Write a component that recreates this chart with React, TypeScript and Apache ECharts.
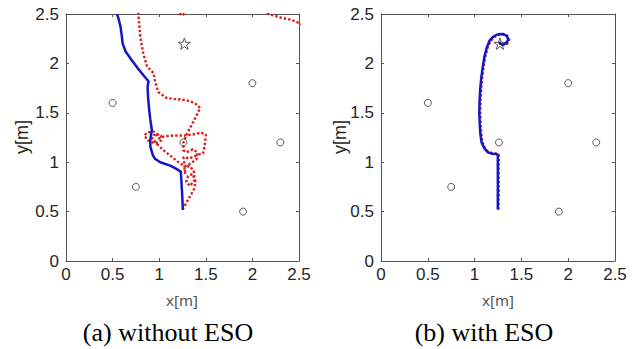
import React, { useEffect, useRef } from "react";
import * as echarts from "echarts";

const axisTicks = [0, 0.5, 1, 1.5, 2, 2.5];

const obstacles: [number, number][] = [
  [0.5, 1.6],
  [0.75, 0.75],
  [1.26, 1.2],
  [1.9, 0.5],
  [2.0, 1.8],
  [2.3, 1.2],
];

const goal: [number, number][] = [[1.27, 2.2]];

// (a) without ESO
const blueWithout: [number, number][] = [
  [1.254, 0.516], [1.245, 0.7], [1.232, 0.904], [1.17, 0.94], [1.118, 0.965],
  [1.011, 0.999], [0.955, 1.035], [0.932, 1.07], [0.905, 1.157], [0.904, 1.225],
  [0.921, 1.326], [0.905, 1.43], [0.893, 1.528], [0.882, 1.64], [0.875, 1.76],
  [0.885, 1.82], [0.84, 1.87], [0.77, 1.95], [0.7, 2.04], [0.64, 2.12],
  [0.607, 2.203], [0.597, 2.29], [0.585, 2.372], [0.567, 2.44], [0.548, 2.5],
];

const redWithout: [number, number][] = [
  [1.25, 0.52], [1.31, 0.62], [1.37, 0.72], [1.39, 0.8], [1.36, 0.88],
  [1.31, 0.86], [1.29, 0.8], [1.33, 0.76], [1.38, 0.82], [1.37, 0.92],
  [1.32, 0.96], [1.27, 0.94], [1.28, 0.88], [1.27, 0.98], [1.26, 1.05],
  [1.33, 1.04], [1.4, 1.07], [1.47, 1.09], [1.49, 1.18], [1.5, 1.28],
  [1.45, 1.3], [1.36, 1.28], [1.27, 1.27], [1.15, 1.27], [1.05, 1.26],
  [1.0, 1.24], [0.94, 1.31], [0.87, 1.3], [0.84, 1.27], [0.88, 1.22],
  [0.96, 1.19], [1.02, 1.22], [1.02, 1.27], [0.96, 1.29], [0.92, 1.25],
  [0.98, 1.18], [1.06, 1.11], [1.14, 1.05], [1.22, 0.99], [1.28, 0.96],
  [1.34, 0.99], [1.4, 1.03], [1.41, 1.1], [1.36, 1.13], [1.29, 1.1],
  [1.26, 1.12], [1.26, 1.2], [1.3, 1.29], [1.35, 1.38], [1.4, 1.47],
  [1.44, 1.55], [1.38, 1.6], [1.28, 1.63], [1.16, 1.64], [1.08, 1.65],
  [0.99, 1.71], [0.955, 1.82], [0.94, 1.9], [0.87, 1.97], [0.83, 2.1],
  [0.8, 2.25], [0.79, 2.35], [0.775, 2.5], [0.76, 2.65], [0.9, 2.9],
  [1.15, 2.62], [1.21, 2.51], [1.245, 2.485], [1.28, 2.51], [1.5, 2.8],
  [2.0, 2.7], [2.17, 2.5], [2.3, 2.465], [2.42, 2.44], [2.5, 2.41], [2.6, 2.37],
];

// (b) with ESO
const blueWith: [number, number][] = [
  [1.248, 0.52], [1.248, 0.7], [1.248, 0.9], [1.248, 1.075], [1.235, 1.082],
  [1.19, 1.085], [1.14, 1.1], [1.105, 1.14], [1.075, 1.2], [1.062, 1.28],
  [1.055, 1.38], [1.05, 1.5], [1.053, 1.62], [1.06, 1.74], [1.072, 1.86],
  [1.088, 1.97], [1.105, 2.07], [1.13, 2.16], [1.16, 2.23], [1.2, 2.27],
  [1.25, 2.295], [1.3, 2.298], [1.34, 2.28], [1.36, 2.245], [1.34, 2.205],
  [1.3, 2.19], [1.27, 2.2], [1.265, 2.22],
];

const redWith: [number, number][] = [
  [1.256, 0.52], [1.258, 0.7], [1.258, 0.9], [1.258, 1.075], [1.24, 1.086],
  [1.195, 1.09], [1.145, 1.105], [1.108, 1.145], [1.085, 1.2], [1.072, 1.28],
  [1.065, 1.38], [1.06, 1.5], [1.063, 1.62], [1.07, 1.74], [1.082, 1.86],
  [1.097, 1.97], [1.115, 2.07], [1.14, 2.16], [1.17, 2.225], [1.21, 2.265],
  [1.255, 2.29], [1.305, 2.295], [1.35, 2.28], [1.37, 2.24], [1.35, 2.2],
  [1.31, 2.185], [1.275, 2.195], [1.27, 2.21],
];

const STAR =
  "path://M100,0L122.45,69.1L195.1,69.1L136.3,111.8L158.8,180.9L100,138.2L41.2,180.9L63.7,111.8L4.9,69.1L77.55,69.1Z";

const AXIS_COLOR = "#555";
const LABEL_COLOR = "#262626";
const BLUE = "#1414c8";
const RED = "#d8201c";

function xAxes(gridIndex: number) {
  const common = {
    type: "value",
    gridIndex,
    min: 0,
    max: 2.5,
    interval: 0.5,
    splitLine: { show: false },
    axisLine: { show: true, onZero: false, lineStyle: { color: AXIS_COLOR, width: 1 } },
    axisTick: { show: true, inside: true, length: 3, lineStyle: { color: AXIS_COLOR } },
  };
  return [
    {
      ...common,
      position: "bottom",
      axisLabel: {
        show: true,
        fontSize: 17,
        fontFamily: "Liberation Sans",
        color: LABEL_COLOR,
        margin: 5,
        showMinLabel: true,
        showMaxLabel: true,
        formatter: (v: number) => String(v),
      },
    },
    { ...common, position: "top", axisLabel: { show: false } },
  ];
}

function yAxes(gridIndex: number) {
  const common = {
    type: "value",
    gridIndex,
    min: 0,
    max: 2.5,
    interval: 0.5,
    splitLine: { show: false },
    axisLine: { show: true, onZero: false, lineStyle: { color: AXIS_COLOR, width: 1 } },
    axisTick: { show: true, inside: true, length: 3, lineStyle: { color: AXIS_COLOR } },
  };
  return [
    {
      ...common,
      position: "left",
      axisLabel: {
        show: true,
        fontSize: 17,
        fontFamily: "Liberation Sans",
        color: LABEL_COLOR,
        margin: 7,
        showMinLabel: true,
        showMaxLabel: true,
        formatter: (v: number) => String(v),
      },
    },
    { ...common, position: "right", axisLabel: { show: false } },
  ];
}

function panelSeries(xi: number, yi: number, red: [number, number][], blue: [number, number][]) {
  return [
    {
      type: "line",
      xAxisIndex: xi,
      yAxisIndex: yi,
      data: red,
      symbol: "none",
      clip: true,
      z: 2,
      lineStyle: { color: RED, width: 2.4, type: [2.4, 2] },
    },
    {
      type: "line",
      xAxisIndex: xi,
      yAxisIndex: yi,
      data: blue,
      symbol: "none",
      clip: true,
      z: 3,
      lineStyle: { color: BLUE, width: 2.5 },
    },
    {
      type: "scatter",
      xAxisIndex: xi,
      yAxisIndex: yi,
      data: obstacles,
      symbol: "circle",
      symbolSize: 7,
      z: 4,
      itemStyle: { color: "rgba(0,0,0,0)", borderColor: "#333", borderWidth: 1 },
    },
    {
      type: "scatter",
      xAxisIndex: xi,
      yAxisIndex: yi,
      data: goal,
      symbol: STAR,
      symbolKeepAspect: true,
      symbolSize: 12,
      z: 4,
      itemStyle: { color: "rgba(0,0,0,0)", borderColor: "#333", borderWidth: 1 },
    },
  ];
}

export default function App() {
  const ref = useRef<HTMLDivElement>(null);
  useEffect(() => {
    if (!ref.current) return;
    const chart = echarts.init(ref.current, null, { renderer: "svg" });
    chart.setOption({
      animation: false,
      backgroundColor: "#fff",
      grid: [
        { left: 66, top: 14, width: 233, height: 247 },
        { left: 381, top: 14, width: 234, height: 247 },
      ],
      xAxis: [...xAxes(0), ...xAxes(1)],
      yAxis: [...yAxes(0), ...yAxes(1)],
      series: [
        ...panelSeries(0, 0, redWithout, blueWithout),
        ...panelSeries(2, 2, redWith, blueWith),
      ],
      graphic: [
        {
          type: "text",
          x: 182,
          y: 300,
          style: { text: "x[m]", font: '15px "Noto Sans"', fill: "#555", textAlign: "center", textVerticalAlign: "middle" },
        },
        {
          type: "text",
          x: 498,
          y: 300,
          style: { text: "x[m]", font: '15px "Noto Sans"', fill: "#555", textAlign: "center", textVerticalAlign: "middle" },
        },
        {
          type: "text",
          x: 22,
          y: 137,
          rotation: Math.PI / 2,
          style: { text: "y[m]", font: '18px "Liberation Sans"', fill: LABEL_COLOR, textAlign: "center", textVerticalAlign: "middle" },
        },
        {
          type: "text",
          x: 340,
          y: 137,
          rotation: Math.PI / 2,
          style: { text: "y[m]", font: '18px "Liberation Sans"', fill: LABEL_COLOR, textAlign: "center", textVerticalAlign: "middle" },
        },
        {
          type: "text",
          x: 168,
          y: 332,
          style: { text: "(a) without ESO", font: '26px "Liberation Serif"', fill: "#000", textAlign: "center", textVerticalAlign: "middle" },
        },
        {
          type: "text",
          x: 484,
          y: 332,
          style: { text: "(b) with ESO", font: '26px "Liberation Serif"', fill: "#000", textAlign: "center", textVerticalAlign: "middle" },
        },
      ],
    });
    return () => chart.dispose();
  }, []);
  return <div ref={ref} style={{ width: 643, height: 349, position: "absolute", left: 0, top: 0 }} />;
}
